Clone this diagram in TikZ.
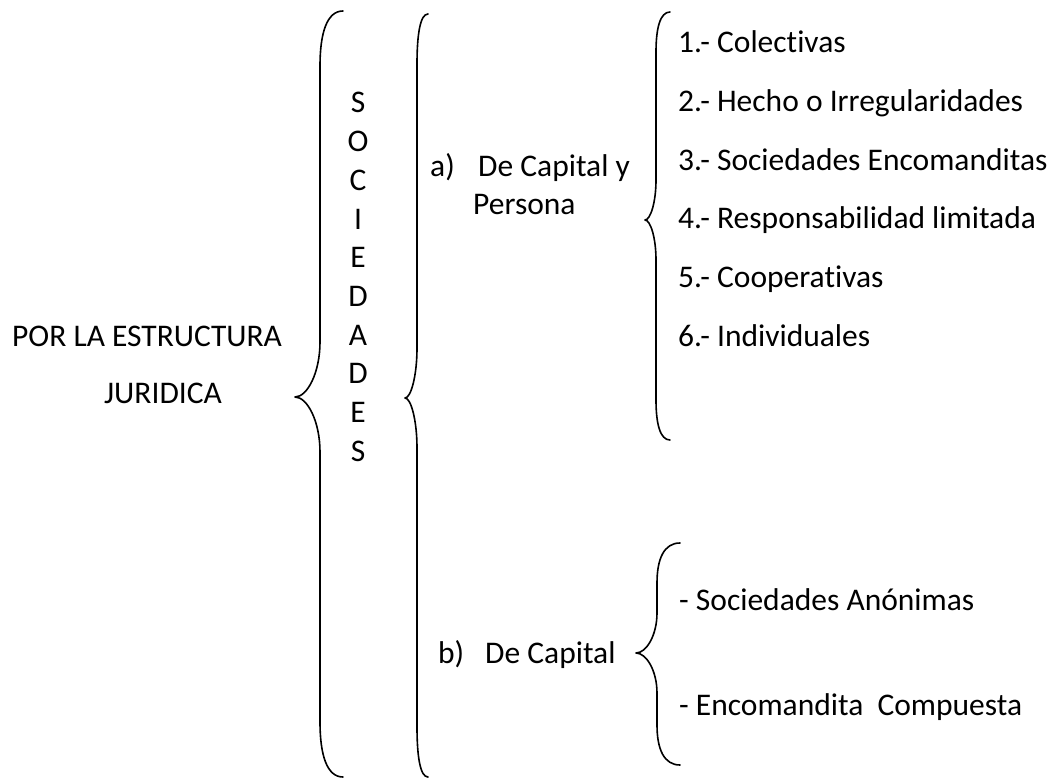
\documentclass[tikz,border=0pt]{standalone}
\usepackage{fontspec}
\setmainfont{Carlito}[Ligatures=NoCommon]
\usetikzlibrary{positioning}

\newcommand{\bodyfont}{\fontsize{31.5}{38.4}\selectfont}
% #1 end x, #2 line x, #3 tip x, #4 top y, #5 tip y, #6 bottom y, #7 bend
\newcommand{\curlybrace}[7]{%
  \draw[bracepath] (#1,#4)
    .. controls ({#2+0.3*(#1-#2)},#4) and (#2,{#4+0.4*#7}) .. (#2,{#4+#7})
    -- (#2,{#5-#7})
    .. controls (#2,{#5-0.45*#7}) and ({#3+0.5*(#2-#3)},#5) .. (#3,#5)
    .. controls ({#3+0.5*(#2-#3)},#5) and (#2,{#5+0.45*#7}) .. (#2,{#5+#7})
    -- (#2,{#6-#7})
    .. controls (#2,{#6-0.4*#7}) and ({#2+0.3*(#1-#2)},#6) .. (#1,#6);}

\tikzset{
  txt/.style={anchor=base west, inner sep=0pt, font=\bodyfont},
  letter/.style={anchor=base, inner sep=0pt, font=\bodyfont},
  bracepath/.style={line width=1.6pt, line cap=round, line join=round}
}

\begin{document}
\begin{tikzpicture}[x=1pt, y=-1pt]
  \useasboundingbox (0,0) rectangle (1063,781);

  % left title
  \node[txt] (title1) at (12,346) {POR LA ESTRUCTURA};
  \node[txt] (title2) at (104,403) {JURIDICA};

  % vertical word
  \foreach \ch [count=\i from 0] in {S,O,C,I,E,D,A,D,E,S}
    \node[letter] (soc\i) at (358,{113+38.7*\i}) {\ch};

  % branches
  \node[txt] (amark) at (430,176) {a)};
  \node[txt] (aline1) at (478,176) {De Capital y};
  \node[txt] (aline2) at (473,214.5) {Persona};
  \node[txt] (bmark) at (438,663) {b)};
  \node[txt] (bline) at (485,663) {De Capital};

  % first list
  \node[txt] (item1) at (678,53) {1.- Colectivas};
  \node[txt] (item2) at (678,111.6) {2.- Hecho o Irregularidades};
  \node[txt] (item3) at (678,170.2) {3.- Sociedades Encomanditas};
  \node[txt] (item4) at (678,228.8) {4.- Responsabilidad limitada};
  \node[txt] (item5) at (678,287.4) {5.- Cooperativas};
  \node[txt] (item6) at (678,346) {6.- Individuales};

  % second list
  \node[txt] (cap1) at (679,610) {- Sociedades Anónimas};
  \node[txt] (cap2) at (679,715) {- Encomandita\ \ Compuesta};

  % braces
  \curlybrace{343}{320}{295}{11}{397}{777}{55}
  \curlybrace{428}{417}{405}{14}{398}{777}{50}
  \curlybrace{670}{656}{645}{12}{220}{440}{40}
  \curlybrace{680}{657}{636}{543}{653}{765}{40}
\end{tikzpicture}
\end{document}
